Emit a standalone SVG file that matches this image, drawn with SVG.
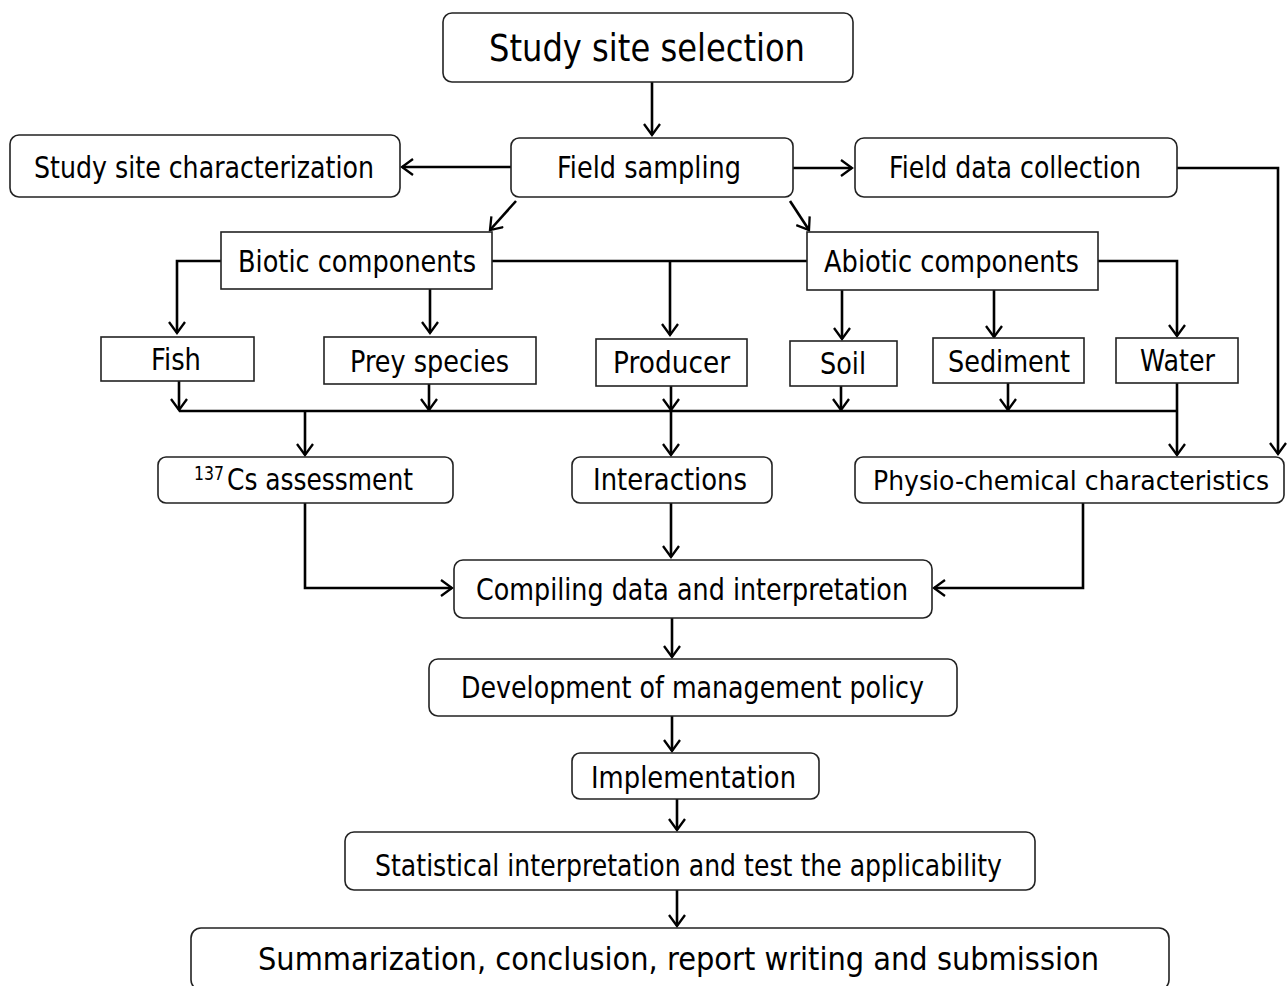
<svg xmlns="http://www.w3.org/2000/svg" width="1287" height="986" viewBox="0 0 1287 986">
<style>
.box{fill:#fff;stroke:#222;stroke-width:1.6}
.t{font-family:"DejaVu Sans","Liberation Sans",sans-serif;font-size:30px;fill:#000}
.c{fill:none;stroke:#000;stroke-width:2.6}
</style>
<defs>
<marker id="ah" markerWidth="18" markerHeight="18" refX="13" refY="9" orient="auto" markerUnits="userSpaceOnUse">
<path d="M2,1 L13,9 L2,17" fill="none" stroke="#000" stroke-width="2.3"/>
</marker>
</defs>
<rect width="1287" height="986" fill="#fff"/>
<g id="connectors">
<path class="c" d="M652,82 V135" stroke-width="3.4" marker-end="url(#ah)"/>
<path class="c" d="M511,167 H402" marker-end="url(#ah)"/>
<path class="c" d="M793,168 H852" marker-end="url(#ah)"/>
<path class="c" d="M1177,168 H1278 V454" marker-end="url(#ah)"/>
<path class="c" d="M516,201 L490,230" stroke-width="2.2" marker-end="url(#ah)"/>
<path class="c" d="M790,201 L809,230" stroke-width="2.2" marker-end="url(#ah)"/>
<path class="c" d="M221,261 H177 V333" marker-end="url(#ah)"/>
<path class="c" d="M430,289 V333" marker-end="url(#ah)"/>
<path class="c" d="M492,261 H807"/>
<path class="c" d="M670,261 V335" marker-end="url(#ah)"/>
<path class="c" d="M1098,261 H1177 V336" marker-end="url(#ah)"/>
<path class="c" d="M842,290 V339" marker-end="url(#ah)"/>
<path class="c" d="M994,290 V337" marker-end="url(#ah)"/>
<path class="c" d="M179,381 V410" stroke-width="2.2" marker-end="url(#ah)"/>
<path class="c" d="M429,384 V410" stroke-width="2.2" marker-end="url(#ah)"/>
<path class="c" d="M671,386 V410" stroke-width="2.2" marker-end="url(#ah)"/>
<path class="c" d="M841,386 V410" stroke-width="2.2" marker-end="url(#ah)"/>
<path class="c" d="M1008,383 V410" stroke-width="2.2" marker-end="url(#ah)"/>
<path class="c" d="M179,411 H1177"/>
<path class="c" d="M1177,383 V455" stroke-width="2.2" marker-end="url(#ah)"/>
<path class="c" d="M305,411 V455" stroke-width="2.2" marker-end="url(#ah)"/>
<path class="c" d="M671,411 V455" stroke-width="2.2" marker-end="url(#ah)"/>
<path class="c" d="M305,503 V588 H452" marker-end="url(#ah)"/>
<path class="c" d="M671,503 V557" marker-end="url(#ah)"/>
<path class="c" d="M1083,503 V588 H934" marker-end="url(#ah)"/>
<path class="c" d="M672,618 V657" stroke-width="2.2" marker-end="url(#ah)"/>
<path class="c" d="M672,716 V751" stroke-width="2.2" marker-end="url(#ah)"/>
<path class="c" d="M677,799 V830" stroke-width="2.2" marker-end="url(#ah)"/>
<path class="c" d="M677,890 V926" stroke-width="2.2" marker-end="url(#ah)"/>
</g>
<g id="n-site-selection"><rect class="box" x="443" y="13" width="410" height="69" rx="9"/><text class="t" x="489" y="61" style="font-size:37px" textLength="316" lengthAdjust="spacingAndGlyphs">Study site selection</text></g>
<g id="n-field-sampling"><rect class="box" x="511" y="138" width="282" height="59" rx="8"/><text class="t" x="557" y="178" textLength="184" lengthAdjust="spacingAndGlyphs">Field sampling</text></g>
<g id="n-site-char"><rect class="box" x="10" y="135" width="390" height="62" rx="9"/><text class="t" x="34" y="178" textLength="340" lengthAdjust="spacingAndGlyphs">Study site characterization</text></g>
<g id="n-field-data"><rect class="box" x="855" y="138" width="322" height="59" rx="9"/><text class="t" x="889" y="178" textLength="252" lengthAdjust="spacingAndGlyphs">Field data collection</text></g>
<g id="n-biotic"><rect class="box" x="221" y="232" width="271" height="57"/><text class="t" x="238" y="272" textLength="238" lengthAdjust="spacingAndGlyphs">Biotic components</text></g>
<g id="n-abiotic"><rect class="box" x="807" y="232" width="291" height="58"/><text class="t" x="824" y="272" textLength="255" lengthAdjust="spacingAndGlyphs">Abiotic components</text></g>
<g id="n-fish"><rect class="box" x="101" y="337" width="153" height="44"/><text class="t" x="151" y="370" textLength="50" lengthAdjust="spacingAndGlyphs">Fish</text></g>
<g id="n-prey"><rect class="box" x="324" y="337" width="212" height="47"/><text class="t" x="350" y="372" textLength="159" lengthAdjust="spacingAndGlyphs">Prey species</text></g>
<g id="n-producer"><rect class="box" x="596" y="339" width="151" height="47"/><text class="t" x="613" y="373" textLength="117" lengthAdjust="spacingAndGlyphs">Producer</text></g>
<g id="n-soil"><rect class="box" x="790" y="341" width="107" height="45"/><text class="t" x="820" y="374" textLength="46" lengthAdjust="spacingAndGlyphs">Soil</text></g>
<g id="n-sediment"><rect class="box" x="933" y="338" width="151" height="45"/><text class="t" x="948" y="372" textLength="122" lengthAdjust="spacingAndGlyphs">Sediment</text></g>
<g id="n-water"><rect class="box" x="1116" y="338" width="122" height="45"/><text class="t" x="1140" y="371" textLength="75" lengthAdjust="spacingAndGlyphs">Water</text></g>
<g id="n-cs"><rect class="box" x="158" y="457" width="295" height="46" rx="8"/><text class="t" x="194" y="490"><tspan style="font-size:19px" dy="-10" textLength="30" lengthAdjust="spacingAndGlyphs">137</tspan><tspan x="227" dy="10" textLength="186" lengthAdjust="spacingAndGlyphs">Cs assessment</tspan></text></g>
<g id="n-interactions"><rect class="box" x="572" y="457" width="200" height="46" rx="8"/><text class="t" x="593" y="490" textLength="154" lengthAdjust="spacingAndGlyphs">Interactions</text></g>
<g id="n-physio"><rect class="box" x="855" y="457" width="429" height="46" rx="8"/><text class="t" x="873" y="490" style="font-size:26px" textLength="396" lengthAdjust="spacingAndGlyphs">Physio-chemical characteristics</text></g>
<g id="n-compiling"><rect class="box" x="454" y="560" width="478" height="58" rx="9"/><text class="t" x="476" y="600" textLength="432" lengthAdjust="spacingAndGlyphs">Compiling data and interpretation</text></g>
<g id="n-development"><rect class="box" x="429" y="659" width="528" height="57" rx="9"/><text class="t" x="461" y="698" textLength="463" lengthAdjust="spacingAndGlyphs">Development of management policy</text></g>
<g id="n-implementation"><rect class="box" x="572" y="753" width="247" height="46" rx="8"/><text class="t" x="591" y="788" textLength="205" lengthAdjust="spacingAndGlyphs">Implementation</text></g>
<g id="n-statistical"><rect class="box" x="345" y="832" width="690" height="58" rx="9"/><text class="t" x="375" y="876" style="font-size:31px" textLength="627" lengthAdjust="spacingAndGlyphs">Statistical interpretation and test the applicability</text></g>
<g id="n-summary"><rect class="box" x="191" y="928" width="978" height="62" rx="10"/><text class="t" x="258" y="970" style="font-size:32px" textLength="841" lengthAdjust="spacingAndGlyphs">Summarization, conclusion, report writing and submission</text></g>
</svg>
